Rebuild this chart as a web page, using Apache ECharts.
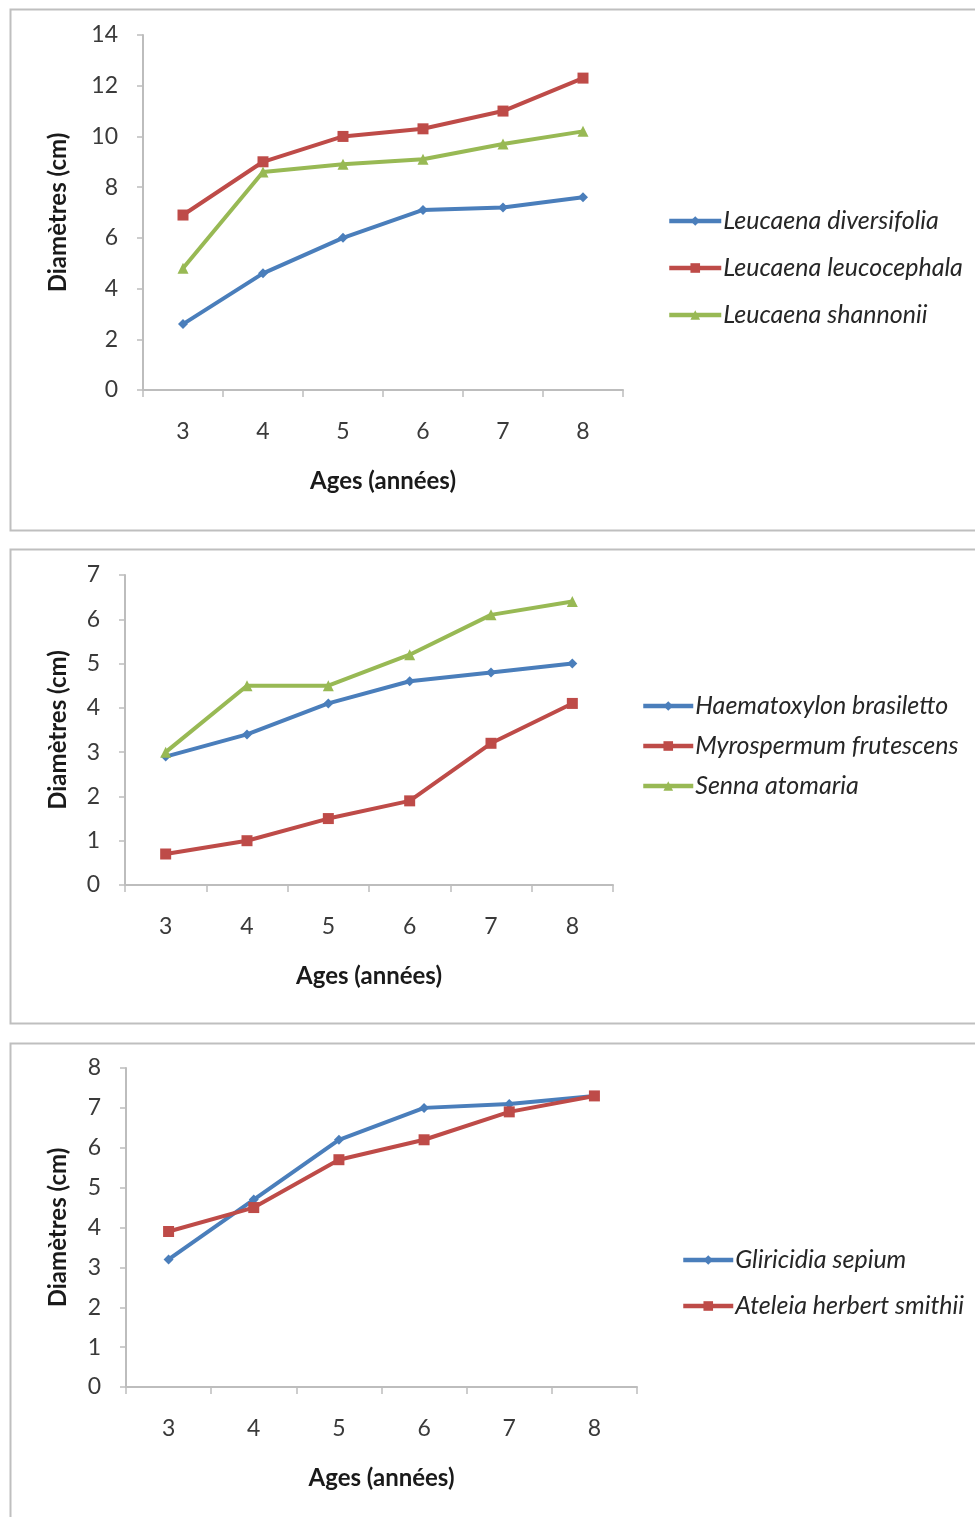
<!DOCTYPE html>
<html>
<head>
<meta charset="utf-8">
<script src="https://cdn.jsdelivr.net/npm/echarts@6/dist/echarts.min.js"></script>
<style>
  html, body { margin: 0; padding: 0; background: #fff; }
  #chart { width: 975px; height: 1517px; }
</style>
</head>
<body>
<div id="chart"></div>
<script>
// Ages (years) shared by all three panels
const ages = ['3', '4', '5', '6', '7', '8'];

// Panel 1 — Leucaena species (diameter, cm)
const leucaenaDiversifolia = [2.6, 4.6, 6.0, 7.1, 7.2, 7.6];
const leucaenaLeucocephala = [6.9, 9.0, 10.0, 10.3, 11.0, 12.3];
const leucaenaShannonii = [4.8, 8.6, 8.9, 9.1, 9.7, 10.2];

// Panel 2
const haematoxylonBrasiletto = [2.9, 3.4, 4.1, 4.6, 4.8, 5.0];
const myrospermumFrutescens = [0.7, 1.0, 1.5, 1.9, 3.2, 4.1];
const sennaAtomaria = [3.0, 4.5, 4.5, 5.2, 6.1, 6.4];

// Panel 3
const gliricidiaSepium = [3.2, 4.7, 6.2, 7.0, 7.1, 7.3];
const ateleiaHerbertSmithii = [3.9, 4.5, 5.7, 6.2, 6.9, 7.3];

// Y axis ranges per panel
const yMax = [14, 7, 8];
const yStep = [2, 1, 1];

const BLUE = '#4A7EBB', RED = '#BE4B48', GREEN = '#98B954';
const FONT = 'Lato, "Open Sans", sans-serif';
const AXIS_GRAY = '#bdbdbd';

const panels = [
  { grid: { left: 143, top: 35, width: 480, height: 355 }, yGap: 73,
    series: [
      ['Leucaena diversifolia', leucaenaDiversifolia, BLUE, 'diamond', 10],
      ['Leucaena leucocephala', leucaenaLeucocephala, RED, 'rect', 11],
      ['Leucaena shannonii', leucaenaShannonii, GREEN, 'triangle', 11]
    ],
    legend: { left: 662, top: 203, gap: 21, width: 52 } },
  { grid: { left: 125, top: 575, width: 488, height: 310 }, yGap: 55,
    series: [
      ['Haematoxylon brasiletto', haematoxylonBrasiletto, BLUE, 'diamond', 10],
      ['Myrospermum frutescens', myrospermumFrutescens, RED, 'rect', 11],
      ['Senna atomaria', sennaAtomaria, GREEN, 'triangle', 11]
    ],
    legend: { left: 636, top: 688, gap: 14, width: 50 } },
  { grid: { left: 126, top: 1068, width: 511, height: 319 }, yGap: 56,
    series: [
      ['Gliricidia sepium', gliricidiaSepium, BLUE, 'diamond', 10],
      ['Ateleia herbert smithii', ateleiaHerbertSmithii, RED, 'rect', 11]
    ],
    legend: { left: 676, top: 1242, gap: 20, width: 50 } }
];

const grids = [], xAxes = [], yAxes = [], series = [], legends = [];

panels.forEach((p, i) => {
  grids.push(Object.assign({ containLabel: false }, p.grid));
  xAxes.push({
    type: 'category', gridIndex: i, data: ages, boundaryGap: true,
    name: 'Ages (années)', nameLocation: 'middle', nameGap: 79,
    nameTextStyle: { fontFamily: FONT, fontWeight: 'bold', fontSize: 24, color: '#1a1a1a' },
    axisLine: { lineStyle: { color: AXIS_GRAY, width: 2 } },
    axisTick: { show: true, interval: 0, length: 7, lineStyle: { color: AXIS_GRAY, width: 1.5 } },
    axisLabel: { margin: 30, fontFamily: FONT, fontSize: 23, color: '#3a3a3a' },
    splitLine: { show: false }
  });
  yAxes.push({
    type: 'value', gridIndex: i, min: 0, max: yMax[i], interval: yStep[i],
    name: 'Diamètres (cm)', nameLocation: 'middle', nameGap: p.yGap, nameRotate: 90,
    nameTextStyle: { fontFamily: FONT, fontWeight: 'bold', fontSize: 24, color: '#1a1a1a' },
    axisLine: { show: true, lineStyle: { color: AXIS_GRAY, width: 2 } },
    axisTick: { show: true, length: 6, lineStyle: { color: AXIS_GRAY, width: 1.5 } },
    axisLabel: { margin: 25, fontFamily: FONT, fontSize: 23, color: '#3a3a3a' },
    splitLine: { show: false }
  });
  p.series.forEach(([name, values, color, symbol, size]) => {
    series.push({
      type: 'line', name, data: values, xAxisIndex: i, yAxisIndex: i,
      symbol, symbolSize: size, showAllSymbol: true,
      lineStyle: { color, width: 4 },
      itemStyle: { color },
      emphasis: { disabled: true },
      animation: false
    });
  });
  legends.push({
    orient: 'vertical', left: p.legend.left, top: p.legend.top,
    itemGap: p.legend.gap, itemWidth: p.legend.width, itemHeight: 12,
    data: p.series.map(s => s[0]),
    selectedMode: false,
    lineStyle: { width: 4.5 },
    textStyle: { fontFamily: FONT, fontStyle: 'italic', fontSize: 25, lineHeight: 26, color: '#262626', padding: [0, 0, 0, -3] }
  });
});

// Panel frames
const frames = [
  { y: 7, h: 521 },
  { y: 547, h: 474 },
  { y: 1041, h: 500 }
].map(f => ({
  type: 'rect', left: 8, top: f.y, silent: true,
  shape: { x: 0, y: 0, width: 1000, height: f.h },
  style: { fill: 'none', stroke: '#bfbfbf', lineWidth: 2 }
}));

const chart = echarts.init(document.getElementById('chart'), null, { renderer: 'canvas' });
chart.setOption({
  backgroundColor: '#ffffff',
  animation: false,
  grid: grids,
  xAxis: xAxes,
  yAxis: yAxes,
  legend: legends,
  series,
  graphic: frames
});
</script>
</body>
</html>
